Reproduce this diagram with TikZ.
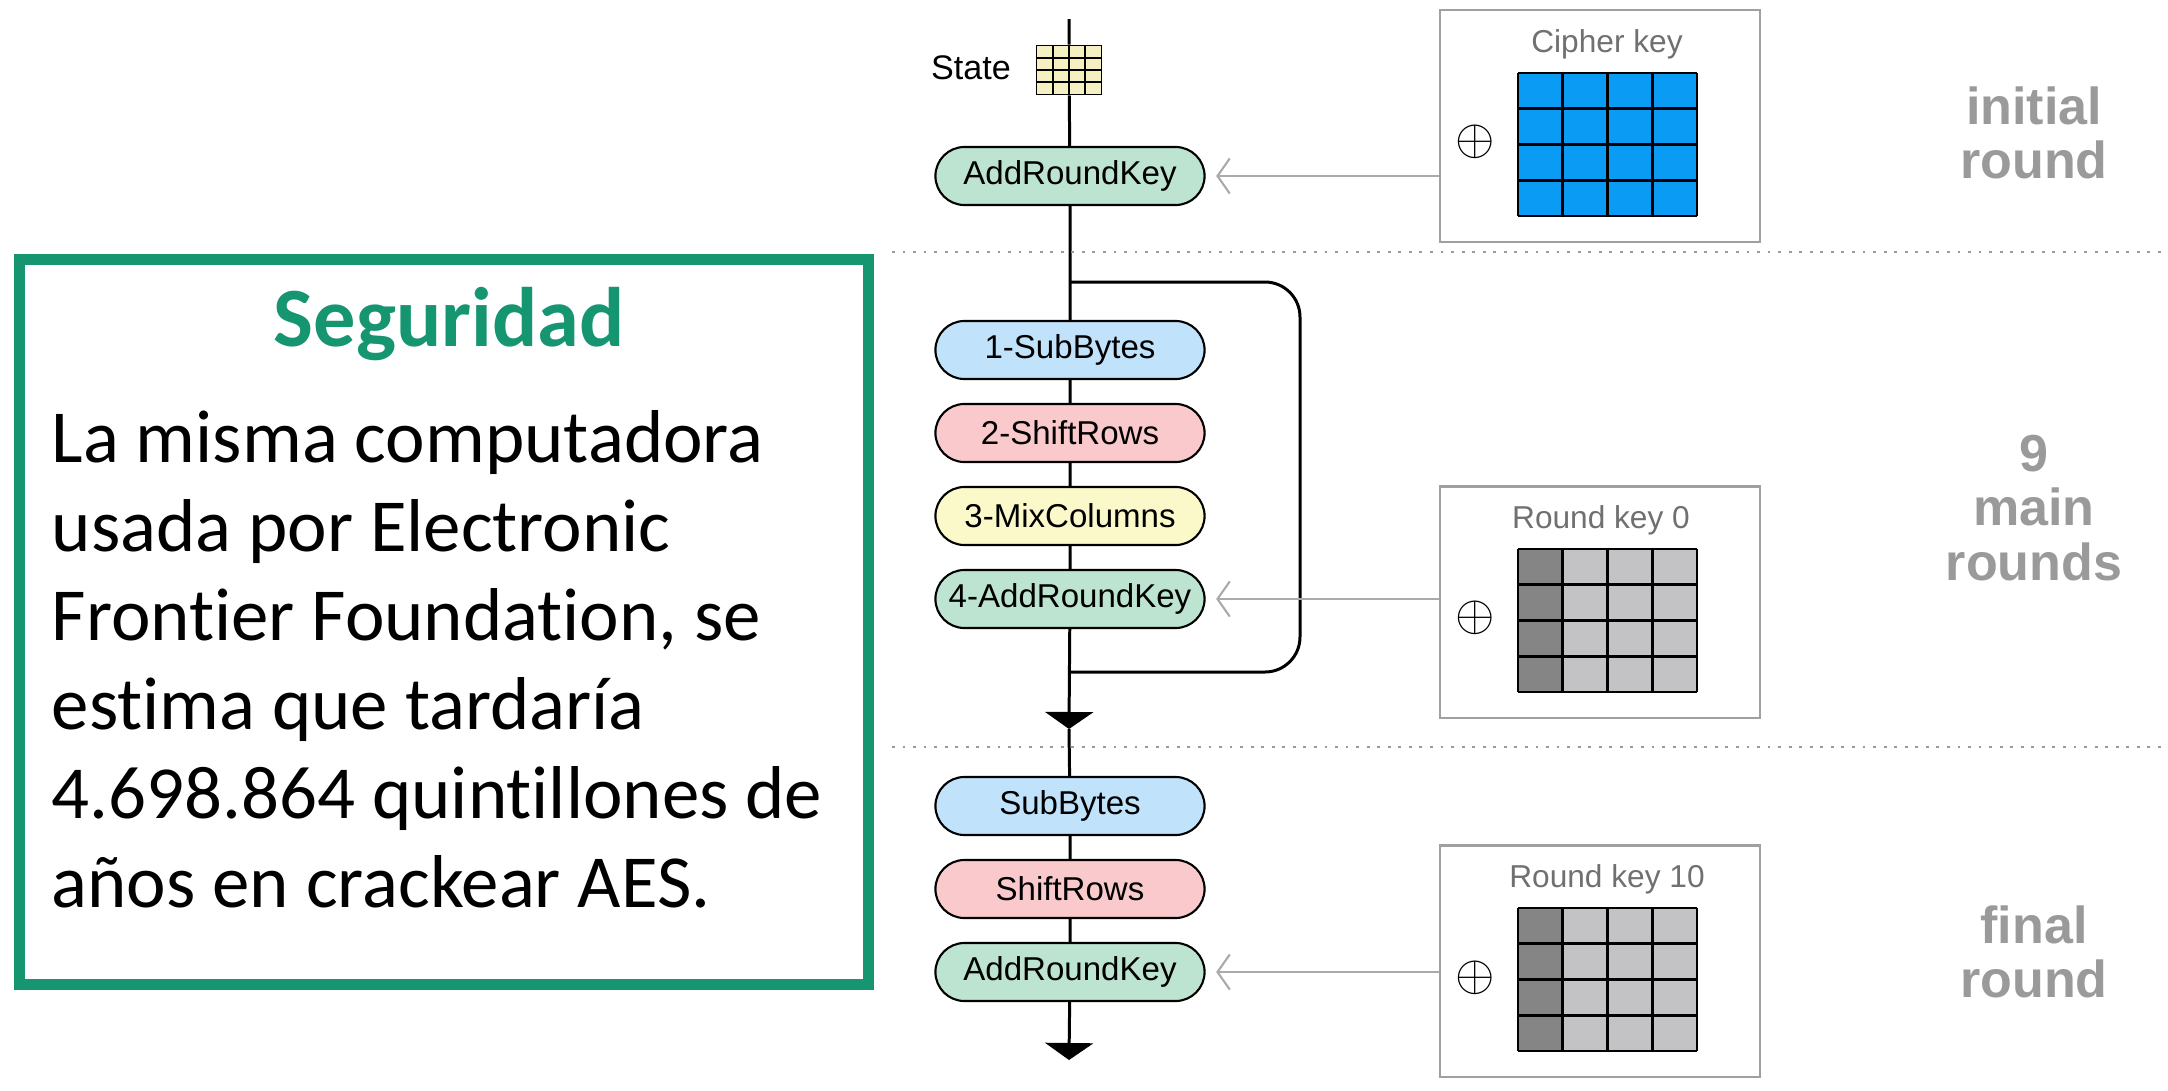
\documentclass[tikz,border=0pt]{standalone}
\usepackage{fontspec}
\setmainfont{Liberation Sans}
\newfontfamily\bodyfont[Ligatures=NoCommon]{Carlito}
\usetikzlibrary{arrows.meta,shapes.misc}

\definecolor{secgreen}{HTML}{159570}
\definecolor{arkgreen}{HTML}{BDE3D1}
\definecolor{subblue}{HTML}{C0E2FB}
\definecolor{shiftpink}{HTML}{F9C9CB}
\definecolor{mixyellow}{HTML}{FBF9C9}
\definecolor{stateyellow}{HTML}{F4F0C0}
\definecolor{keyblue}{HTML}{0A9BF5}
\definecolor{darkcell}{HTML}{858585}
\definecolor{lightcell}{HTML}{C3C3C6}
\definecolor{boxgray}{HTML}{A0A0A0}
\definecolor{keytext}{HTML}{707070}
\definecolor{arrowgray}{HTML}{AAAAAA}
\definecolor{labelgray}{HTML}{9A9A9A}

\tikzset{
  stage/.style={rounded rectangle, draw=black, line width=0.6pt, minimum width=2.69cm,
    minimum height=0.58cm, inner sep=0pt, font=\fontsize{9.4}{11}\selectfont},
  keybox/.style={draw=boxgray, line width=0.6pt, minimum width=3.19cm, minimum height=2.31cm, inner sep=0pt},
  keylabel/.style={text=keytext, font=\fontsize{9}{11}\selectfont},
  xorsign/.style={font=\fontsize{15}{16}\selectfont},
  keyarrow/.style={draw=arrowgray, line width=0.6pt, -{Straight Barb[length=3.5pt,width=10pt]}, shorten >=3pt},
  flow/.style={line width=0.85pt},
  flowtip/.style={-{Triangle[length=0.17cm,width=0.48cm]}},
  roundlabel/.style={text=labelgray, font=\bfseries\fontsize{14.8}{15.5}\selectfont, align=center},
  cellline/.style={line width=0.8pt},
  divider/.style={draw=labelgray, line width=0.5pt, dash pattern=on 0.8pt off 2.2pt},
}

\begin{document}
\begin{tikzpicture}[x=0.01cm,y=-0.01cm]
\useasboundingbox (0,0) rectangle (2168,1090);

% security note on the left
\node [draw=secgreen, line width=3.1pt, minimum width=8.49cm, minimum height=7.25cm, inner sep=0pt] (secbox) at (444,622) {};
\node [anchor=base, text=secgreen, font=\bodyfont\bfseries\fontsize{24}{28}\selectfont] (sectitle) at (449,346) {Seguridad};
\node [anchor=north west, inner sep=0pt, align=left, font=\bodyfont\fontsize{21.3}{25.3}\selectfont] (sectext) at (51,410)
  {La misma computadora\\usada por Electronic\\Frontier Foundation, se\\estima que tardaría\\4.698.864 quintillones de\\años en crackear AES.};

% state and stages
\node [draw=black, line width=0.5pt, fill=stateyellow, minimum width=0.65cm, minimum height=0.49cm, inner sep=0pt] (state) at (1069,70) {};
\foreach \i in {1,2,3} {
  \draw [line width=0.45pt] ({1036.5+\i*16.25},45.5) -- ++(0,49);
  \draw [line width=0.45pt] (1036.5,{45.5+\i*12.25}) -- ++(65,0);
}
\node [font=\fontsize{9.7}{11}\selectfont] (statelbl) at (971,68) {State};

\node [stage, fill=arkgreen] (ark0) at (1070,176) {AddRoundKey};
\node [stage, fill=subblue] (sb1) at (1070,350) {1-SubBytes};
\node [stage, fill=shiftpink] (sr1) at (1070,433) {2-ShiftRows};
\node [stage, fill=mixyellow] (mc1) at (1070,516) {3-MixColumns};
\node [stage, fill=arkgreen] (ark1) at (1070,599) {4-AddRoundKey};
\node [stage, fill=subblue] (sb2) at (1070,806) {SubBytes};
\node [stage, fill=shiftpink] (sr2) at (1070,889) {ShiftRows};
\node [stage, fill=arkgreen] (ark2) at (1070,972) {AddRoundKey};

\coordinate (top) at (1069,19);
\coordinate (tri1) at (1069,729);
\coordinate (bottom) at (1069,1060);
\coordinate (loopin) at (1069,282);
\coordinate (loopturn) at (1300,672);
\coordinate (loopout) at (1069,672);

\draw [flow, flowtip] (top) -- (state) -- (ark0) -- (sb1) -- (sr1) -- (mc1) -- (ark1) -- (tri1);
\draw [flow, flowtip] (tri1) -- (sb2) -- (sr2) -- (ark2) -- (bottom);
\draw [flow, rounded corners=0.35cm] (loopin) -| (loopturn) -- (loopout);

% key boxes
\node [keybox] (ck) at (1600,126) {};
\node [keybox] (rk0) at (1600,602) {};
\node [keybox] (rk10) at (1600,961) {};
\node [keylabel] (cklbl) at (1607,44) {Cipher key};
\node [keylabel] (rk0lbl) at (1601,520) {Round key 0};
\node [keylabel] (rk10lbl) at (1607,879) {Round key 10};
\node [xorsign] (ckxor) at (1475,142) {$\oplus$};
\node [xorsign] (rk0xor) at (1475,618) {$\oplus$};
\node [xorsign] (rk10xor) at (1475,978) {$\oplus$};

\fill [keyblue] (1518,73) rectangle ++(179,143);
\foreach \gy in {549,908} {
  \fill [lightcell] (1518,\gy) rectangle ++(179,143);
  \fill [darkcell] (1518,\gy) rectangle ++(44.75,143);
}
\foreach \gy in {73,549,908} {
  \foreach \i in {0,...,4} {
    \draw [cellline] ({1518+\i*44.75},\gy) -- ++(0,143);
    \draw [cellline] (1518,{\gy+\i*35.75}) -- ++(179,0);
  }
}

\draw [keyarrow] (ck.west |- ark0) -- (ark0.east);
\draw [keyarrow] (rk0.west |- ark1) -- (ark1.east);
\draw [keyarrow] (rk10.west |- ark2) -- (ark2.east);

% round dividers and labels
\coordinate (div1l) at (892,252);
\coordinate (div1r) at (2168,252);
\coordinate (div2l) at (892,747);
\coordinate (div2r) at (2168,747);
\draw [divider] (div1l) -- (div1r);
\draw [divider] (div2l) -- (div2r);

\node [roundlabel] (initlbl) at (2034,133) {initial\\round};
\node [roundlabel] (mainlbl) at (2034,508) {9\\main\\rounds};
\node [roundlabel] (finallbl) at (2034,952) {final\\round};

\end{tikzpicture}
\end{document}
